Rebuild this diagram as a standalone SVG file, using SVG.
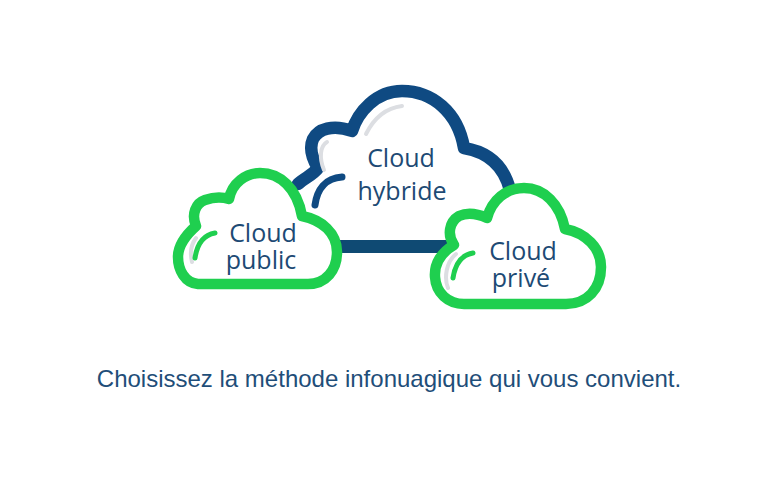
<svg xmlns="http://www.w3.org/2000/svg" width="764" height="500" viewBox="0 0 764 500">
<style>
.o{stroke-linejoin:round;stroke-linecap:round}
.g{fill:#fff;stroke:#1fcf4f;stroke-width:10.5}
.b{fill:none;stroke:#0f4a82;stroke-width:12.5}
.s{fill:none;stroke:#dcdee2;stroke-width:4;stroke-linecap:round}
.w{fill:none;stroke-linecap:round}
.t{font-family:"Open Sans","Noto Sans",sans-serif;fill:#1d4a74;font-size:25px;text-anchor:middle}
.c{font-family:"Liberation Sans",Arial,sans-serif;fill:#1f4e79;font-size:24px;text-anchor:middle}
</style>
<rect width="764" height="500" fill="#fff"/>
<g id="connectors">
<rect x="335" y="240" width="112" height="13" fill="#0f4a73"/>
</g>
<g id="cloud-hybride">
<path class="b o" d="M298 184C304 178 313 175 318 168C312 158 309 148 313 139C318 129 333 124 352 131C358 112 376 91 402 91C432 91 458 112 464 148C488 152 504 166 510 190"/>
<path class="s" d="M324 170C319 158 320 146 327 142"/>
<path class="s" d="M366 134C374 118 386 108 402 106"/>
<path class="w" d="M315 205C317 190 325 178 342 177" stroke="#0f4a82" stroke-width="7"/>
<text class="t" x="401" y="167">Cloud</text>
<text class="t" x="402" y="200">hybride</text>
</g>
<g id="cloud-public">
<path class="g o" d="M198 284C185 283 178 270 178 257C178 244 187 234 196 226C191 214 196 203 205 200C214 197 222 197 229 199C232 183 246 173 260 173C280 173 297 188 302 216C322 220 337 233 337 252C337 270 326 284 308 284Z"/>
<path class="s" d="M192 262C190 254 190 246 196 238"/>
<path class="w" d="M195 258C197 245 203 235 215 233" stroke="#1fcf4f" stroke-width="5"/>
<text class="t" x="263" y="242">Cloud</text>
<text class="t" x="261" y="269">public</text>
</g>
<g id="cloud-prive">
<path class="g o" d="M464 304C448 304 436 293 435 277C434 263 442 252 454 245C447 235 449 222 459 216C468 212 478 214 487 218C492 200 506 188 524 188C544 188 560 204 565 229C586 233 601 248 601 267C601 289 587 304 566 304Z"/>
<path class="s" d="M448 288C444 278 446 262 456 254"/>
<path class="w" d="M453 278C455 265 461 255 473 253" stroke="#1fcf4f" stroke-width="5"/>
<text class="t" x="523" y="260">Cloud</text>
<text class="t" x="521" y="287">privé</text>
</g>
<text class="c" x="389" y="387">Choisissez la méthode infonuagique qui vous convient.</text>
</svg>
